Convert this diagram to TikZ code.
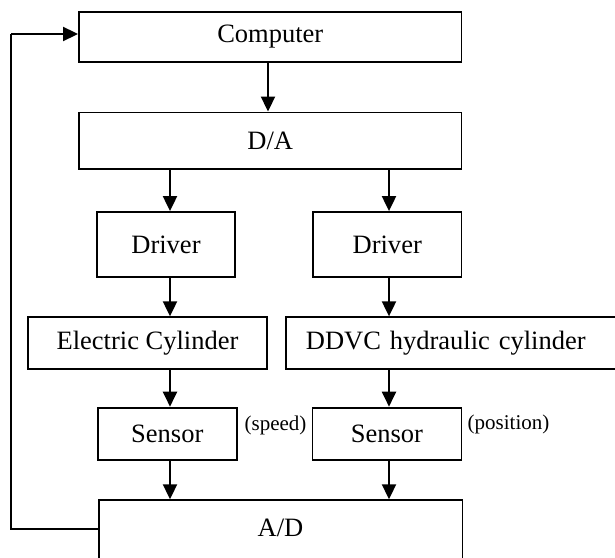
\documentclass[tikz,border=0pt]{standalone}
\usepackage{fontspec}
\setmainfont{Liberation Serif}
\usetikzlibrary{arrows.meta}
\begin{document}
\begin{tikzpicture}[x=1bp,y=-1bp,
  box/.style={draw=black, line width=1.9bp, inner sep=0pt, font=\fontsize{26.5bp}{30bp}\selectfont},
  small/.style={inner sep=0pt, font=\fontsize{21bp}{24bp}\selectfont},
  arr/.style={line width=2bp, -{Triangle[length=15bp,width=14bp]}},
  fb/.style={line width=2bp}]
\clip (0,0) rectangle (615,558);
\fill[white] (0,0) rectangle (615,558);
% boxes
\node[box, minimum width=382.5bp, minimum height=50.6bp] (comp) at (270.25,37) {Computer};
\node[box, minimum width=382.5bp, minimum height=56.8bp] (da) at (270.25,140.9) {D/A};
\node[box, minimum width=138bp, minimum height=65.3bp] (drvL) at (166,244.7) {Driver};
\node[box, minimum width=148.5bp, minimum height=65.3bp] (drvR) at (387.25,244.7) {Driver};
\node[box, minimum width=239bp, minimum height=52bp] (ec) at (147.5,343.3) {Electric Cylinder};
\node[box, anchor=west, text width=300bp, inner xsep=20bp, align=left, minimum height=52bp] (ddvc) at (285,343.3) {DDVC hydraulic cylinder};
\node[box, minimum width=139.4bp, minimum height=52.3bp] (senL) at (167.3,433.8) {Sensor};
\node[box, minimum width=149bp, minimum height=52.3bp] (senR) at (387,433.8) {Sensor};
\node[box, anchor=north west, minimum width=363.9bp, text height=36.5bp, text depth=28bp] (ad) at (97.6,499.3) {A/D};
% side labels
\node[small] (spd) at (275.5,425) {(speed)};
\node[small] (pos) at (508.5,424) {(position)};
% column coordinates
\coordinate (cA) at (268,0);
\coordinate (cL) at (170,0);
\coordinate (cR) at (389,0);
\coordinate (fbIn) at (0,34);
\coordinate (fbOut) at (0,529);
\coordinate (fbTop) at (11,34);
\coordinate (fbBot) at (11,529);
% arrows
\draw[arr] (comp.south -| cA) -- (da.north -| cA);
\draw[arr] (da.south -| cL) -- (drvL.north -| cL);
\draw[arr] (da.south -| cR) -- (drvR.north -| cR);
\draw[arr] (drvL.south -| cL) -- (ec.north -| cL);
\draw[arr] (drvR.south -| cR) -- (ddvc.north -| cR);
\draw[arr] (ec.south -| cL) -- (senL.north -| cL);
\draw[arr] (ddvc.south -| cR) -- (senR.north -| cR);
\draw[arr] (senL.south -| cL) -- (ad.north -| cL);
\draw[arr] (senR.south -| cR) -- (ad.north -| cR);
% feedback
\draw[fb] (ad.west |- fbOut) -- (fbBot) -- (fbTop);
\draw[arr] (fbTop) -- (comp.west |- fbIn);
\end{tikzpicture}
\end{document}
